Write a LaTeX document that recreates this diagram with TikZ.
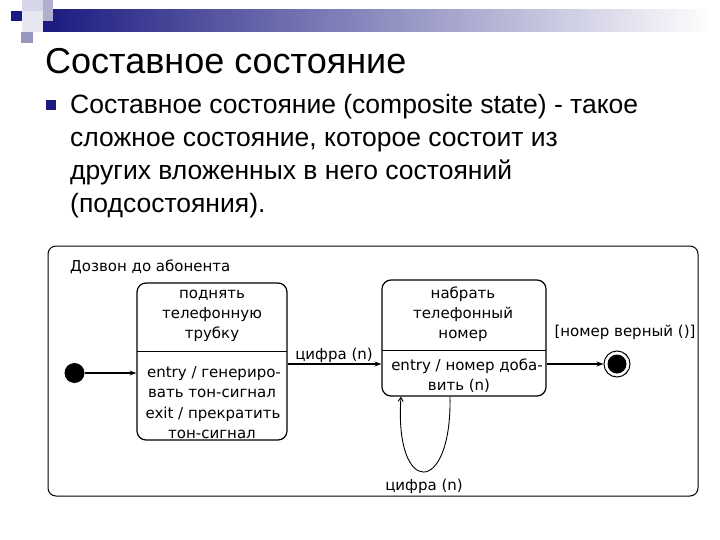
\documentclass[tikz,border=0pt]{standalone}
\usepackage{fontspec}
\setmainfont{Liberation Sans}
\newfontfamily\diafont{DejaVu Sans}
\usetikzlibrary{arrows.meta,calc}
\definecolor{navy}{RGB}{26,26,128}
\definecolor{lavA}{RGB}{214,214,232}
\definecolor{lavB}{RGB}{176,176,206}
\definecolor{lavC}{RGB}{150,150,190}
\definecolor{barmid}{RGB}{190,190,212}
\begin{document}
\begin{tikzpicture}[x=1pt,y=-1pt,
  state/.style={draw,line width=1.2pt,rounded corners=9pt,inner sep=0pt},
  dia/.style={font=\diafont\fontsize{15}{20}\selectfont,inner sep=0pt,anchor=base},
  diaw/.style={font=\diafont\fontsize{15}{20}\selectfont,inner sep=0pt,anchor=base west},
  bodytxt/.style={font=\fontsize{26.5}{33}\selectfont,inner sep=0pt,anchor=base west},
  trans/.style={line width=1.6pt,-{Stealth[length=7pt,width=5pt]}}]
\useasboundingbox (0,0) rectangle (720,540);
% header decoration
\fill[lavA] (22,0) rectangle (43,11);
\fill[lavA!60] (22,11) rectangle (43,32);
\shade[left color=navy,middle color=barmid,right color=white] (43,10) rectangle (712,32);
\fill[lavB] (43,0) rectangle (53,21);
\fill[lavC] (21,32) rectangle (33,43);
\fill[navy] (11,11) rectangle (22,21);
% title and bullet
\node[font=\fontsize{36}{40}\selectfont,inner sep=0pt,anchor=base west] (title) at (45,74) {Составное состояние};
\node[fill=navy,minimum size=10pt,inner sep=0pt] (bul) at (51,105) {};
\node[bodytxt] (b1) at (70,114) {Составное состояние (composite state) - такое};
\node[bodytxt] (b2) at (70,147) {сложное состояние, которое состоит из};
\node[bodytxt] (b3) at (70,180) {других вложенных в него состояний};
\node[bodytxt] (b4) at (70,213) {(подсостояния).};
% composite state
\node[state,rounded corners=8pt,line width=1pt,minimum width=650pt,minimum height=250pt] (comp) at (373,371) {};
\node[diaw] (ctitle) at (70,271) {Дозвон до абонента};
% left state
\node[state,minimum width=150pt,minimum height=157pt] (lbox) at (212,361.5) {};
\draw[line width=0.8pt] (137,351) -- (287,351);
\node[dia] (l1) at (212,298) {поднять};
\node[dia] (l2) at (212,318) {телефонную};
\node[dia] (l3) at (212,338) {трубку};
\node[dia] (l4) at (214,377) {entry / генериро-};
\node[dia] (l5) at (212,397.5) {вать тон-сигнал};
\node[dia] (l6) at (213,418) {exit / прекратить};
\node[dia] (l7) at (212,438) {тон-сигнал};
% right state
\node[state,minimum width=164pt,minimum height=116pt] (rbox) at (464,338) {};
\draw[line width=0.8pt] (382,350) -- (546,350);
\node[dia] (r1) at (463,298) {набрать};
\node[dia] (r2) at (463,318) {телефонный};
\node[dia] (r3) at (463,338) {номер};
\node[dia] (r4) at (467,370) {entry / номер доба-};
\node[dia] (r5) at (459,390) {вить (n)};
% pseudo states
\node[circle,fill=black,minimum size=20pt,inner sep=0pt] (init) at (74.5,373) {};
\node[circle,draw,line width=1pt,minimum size=26pt,inner sep=0pt] (fin) at (617,364) {};
\node[circle,fill=black,minimum size=19pt,inner sep=0pt] (finin) at (617,364) {};
% transitions
\draw[trans] (init) -- (init -| lbox.west);
\draw[trans] (lbox.east |- fin) -- (rbox.west |- fin);
\draw[trans] (rbox.east |- fin) -- (fin);
\draw[line width=0.9pt,-{Straight Barb[length=4pt,width=5pt]}] ([xshift=-14pt]rbox.south) .. controls (452,497) and (394,497) .. ([xshift=-63pt]rbox.south);
% labels
\node[dia] (t1) at (334,359) {цифра (n)};
\node[dia] (t2) at (625,336) {[номер верный ()]};
\node[dia] (t3) at (424,490) {цифра (n)};
\end{tikzpicture}
\end{document}
